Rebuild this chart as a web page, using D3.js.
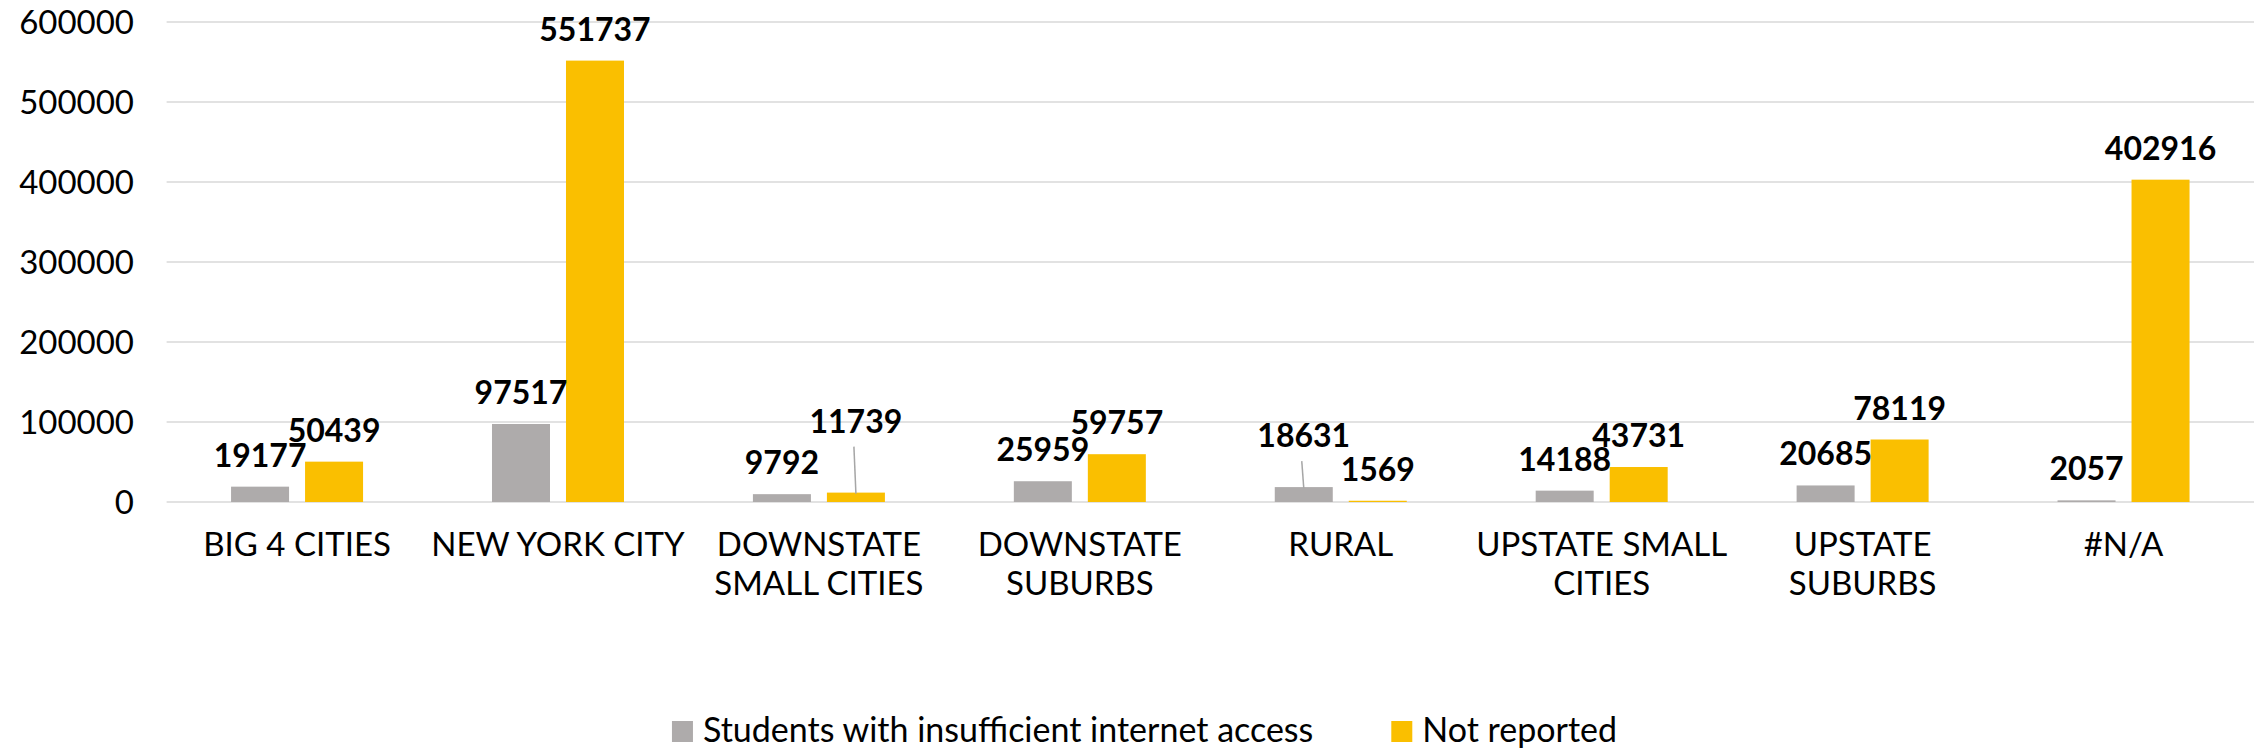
<!DOCTYPE html>
<html>
<head>
<meta charset="utf-8">
<script src="https://cdn.jsdelivr.net/npm/d3@7"></script>
<style>
  body { margin: 0; background: #fff; }
  text { font-family: Lato, "Noto Sans", sans-serif; fill: #000; }
</style>
</head>
<body>
<div id="chart"></div>
<script>
var categories = ["BIG 4 CITIES", "NEW YORK CITY", "DOWNSTATE SMALL CITIES", "DOWNSTATE SUBURBS",
  "RURAL", "UPSTATE SMALL CITIES", "UPSTATE SUBURBS", "#N/A"];
var seriesNames = ["Students with insufficient internet access", "Not reported"];
var insufficient = [19177, 97517, 9792, 25959, 18631, 14188, 20685, 2057];
var notReported = [50439, 551737, 11739, 59757, 1569, 43731, 78119, 402916];
var yTicks = [0, 100000, 200000, 300000, 400000, 500000, 600000];
var colors = ["#AEABAB", "#FABF00"];

// labels that were dragged up in the original, they get a leader line
var labelLift = { "2-1": 40, "4-0": 20 };

var width = 2259, height = 754;
var plotLeft = 166.6, plotRight = 2254, plotTop = 22, plotBottom = 502;

var svg = d3.select("#chart")
  .append("svg")
  .attr("width", width)
  .attr("height", height);

var x = d3.scaleBand()
  .domain(categories)
  .range([plotLeft, plotRight])
  .padding(0);

var xSub = d3.scaleBand()
  .domain([0, 1])
  .range([-66, 66])
  .paddingInner(0.2162);

var y = d3.scaleLinear()
  .domain([0, 600000])
  .range([plotBottom, plotTop]);

////////// grid + y axis //////////
svg.append("g")
  .selectAll("line")
  .data(yTicks)
  .enter()
  .append("line")
  .attr("x1", plotLeft)
  .attr("x2", plotRight)
  .attr("y1", function (d) { return y(d); })
  .attr("y2", function (d) { return y(d); })
  .attr("stroke", "#D9D9D9")
  .attr("stroke-width", 1.6);

svg.append("g")
  .selectAll("text")
  .data(yTicks)
  .enter()
  .append("text")
  .attr("x", 134)
  .attr("y", function (d) { return y(d); })
  .attr("dy", "0.36em")
  .attr("text-anchor", "end")
  .style("font-size", "33px")
  .text(function (d) { return d; });

////////// bars //////////
var rows = [];
categories.forEach(function (c, i) {
  [insufficient[i], notReported[i]].forEach(function (v, s) {
    rows.push({ cat: c, i: i, s: s, value: v });
  });
});

function barX(d) { return x(d.cat) + x.bandwidth() / 2 + xSub(d.s); }
function barMid(d) { return barX(d) + xSub.bandwidth() / 2; }

svg.append("g")
  .selectAll("rect")
  .data(rows)
  .enter()
  .append("rect")
  .attr("x", barX)
  .attr("width", xSub.bandwidth())
  .attr("y", function (d) { return y(d.value); })
  .attr("height", function (d) { return plotBottom - y(d.value); })
  .attr("fill", function (d) { return colors[d.s]; });

////////// data labels //////////
var labels = svg.append("g");
rows.forEach(function (d) {
  var lift = labelLift[d.i + "-" + d.s] || 0;
  var base = y(d.value) - 20 - lift;
  if (lift) {
    labels.append("line")
      .attr("x1", barMid(d) - 2)
      .attr("x2", barMid(d))
      .attr("y1", base + 14)
      .attr("y2", y(d.value) + 1)
      .attr("stroke", "#A6A6A6")
      .attr("stroke-width", 1.5);
  }
  labels.append("text")
    .attr("x", barMid(d))
    .attr("y", base)
    .attr("text-anchor", "middle")
    .style("font-size", "32px")
    .style("font-weight", "bold")
    .text(d.value);
});

////////// category labels //////////
function wrap(textSel, maxW) {
  textSel.each(function (c) {
    var t = d3.select(this);
    var words = c.split(" ");
    var lines = [], line = [];
    var probe = t.append("tspan");
    words.forEach(function (w) {
      line.push(w);
      probe.text(line.join(" "));
      if (probe.node().getComputedTextLength() > maxW && line.length > 1) {
        line.pop();
        lines.push(line.join(" "));
        line = [w];
      }
    });
    lines.push(line.join(" "));
    probe.remove();
    lines.forEach(function (l, k) {
      t.append("tspan")
        .attr("x", x(c) + x.bandwidth() / 2)
        .attr("y", 556 + k * 39)
        .text(l);
    });
  });
}

svg.append("g")
  .selectAll("text")
  .data(categories)
  .enter()
  .append("text")
  .attr("text-anchor", "middle")
  .style("font-size", "33px")
  .call(wrap, 285);

////////// legend //////////
var legend = svg.append("g");
var lx = 0;
var items = [];
seriesNames.forEach(function (name, s) {
  var g = legend.append("g");
  g.append("rect")
    .attr("x", 0).attr("y", 721)
    .attr("width", 21).attr("height", 21)
    .attr("fill", colors[s]);
  var t = g.append("text")
    .attr("x", 31).attr("y", 742)
    .style("font-size", "34px")
    .text(name);
  items.push({ g: g, w: 31 + t.node().getComputedTextLength() });
});
items.forEach(function (it, k) {
  it.g.attr("transform", "translate(" + lx + ",0)");
  lx += it.w + (k < items.length - 1 ? 78 : 0);
});
legend.attr("transform", "translate(" + (1144.5 - lx / 2) + ",0)");
</script>
</body>
</html>
